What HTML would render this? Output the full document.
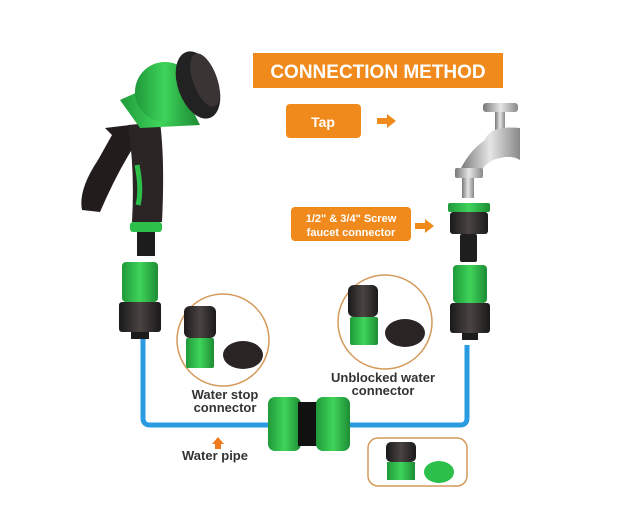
<!DOCTYPE html><html><head><style>body{margin:0;background:#fff}svg{display:block}text{font-family:"Liberation Sans",sans-serif;font-weight:bold}</style></head><body>
<svg width="619" height="526" viewBox="0 0 619 526" xmlns="http://www.w3.org/2000/svg">
<defs>
<linearGradient id="g" x1="0" x2="1"><stop offset="0" stop-color="#1f9a3a"/><stop offset=".5" stop-color="#3fd45a"/><stop offset="1" stop-color="#1d8c34"/></linearGradient>
<linearGradient id="s" x1="0" x2="1"><stop offset="0" stop-color="#777"/><stop offset=".5" stop-color="#e6e6e6"/><stop offset="1" stop-color="#888"/></linearGradient>
<linearGradient id="k" x1="0" x2="1"><stop offset="0" stop-color="#1a1a1a"/><stop offset=".5" stop-color="#4a4442"/><stop offset="1" stop-color="#1a1a1a"/></linearGradient>
</defs>
<!-- pipe -->
<path d="M143 338 V418 Q143 425 150 425 H272 M345 425 H460 Q467 425 467 418 V345" fill="none" stroke="#2a9be0" stroke-width="5"/>
<!-- gun -->
<path d="M82 210 Q78 190 98 160 L112 135 L105 128 L130 125 L138 140 Q118 170 100 212 Z" fill="#221c1c"/>
<path d="M128 125 L160 122 Q165 160 162 222 L132 222 Q135 170 128 125Z" fill="#2a2424"/>
<path d="M137 165 Q142 190 138 205" stroke="#2cc04a" stroke-width="5" fill="none"/>
<path d="M120 100 L175 75 L200 125 L140 128Z" fill="url(#g)"/>
<ellipse cx="165" cy="92" rx="30" ry="30" fill="url(#g)"/>
<ellipse cx="198" cy="85" rx="20" ry="35" transform="rotate(-20 198 85)" fill="#222"/>
<ellipse cx="205" cy="80" rx="12" ry="28" transform="rotate(-20 205 80)" fill="#3a3434"/>
<rect x="130" y="222" width="32" height="10" rx="3" fill="#2cc04a"/>
<rect x="137" y="232" width="18" height="24" fill="#1c1c1c"/>
<!-- left quick connector -->
<rect x="122" y="262" width="36" height="40" rx="4" fill="url(#g)"/>
<rect x="119" y="302" width="42" height="30" rx="3" fill="url(#k)"/>
<rect x="131" y="332" width="18" height="7" fill="#1c1c1c"/>
<!-- faucet -->
<rect x="483" y="103" width="35" height="9" rx="3" fill="url(#s)"/>
<rect x="495" y="112" width="10" height="18" fill="url(#s)"/>
<path d="M520 128 Q490 125 485 140 Q470 150 460 170 L480 172 Q488 160 500 158 Q512 155 520 160Z" fill="url(#s)"/>
<rect x="455" y="168" width="28" height="10" rx="2" fill="url(#s)"/>
<rect x="462" y="178" width="12" height="20" fill="url(#s)"/>
<rect x="448" y="203" width="42" height="9" rx="2" fill="url(#g)"/>
<rect x="450" y="212" width="38" height="22" rx="3" fill="url(#k)"/>
<rect x="460" y="234" width="17" height="28" rx="2" fill="#1e1e1e"/>
<rect x="453" y="265" width="34" height="38" rx="4" fill="url(#g)"/>
<rect x="450" y="303" width="40" height="30" rx="3" fill="url(#k)"/>
<rect x="462" y="333" width="16" height="7" fill="#1c1c1c"/>
<!-- circles -->
<circle cx="223" cy="340" r="46" fill="#fff" stroke="#d49a5a" stroke-width="1.5"/>
<rect x="184" y="306" width="32" height="32" rx="6" fill="url(#k)"/>
<rect x="186" y="338" width="28" height="30" rx="2" fill="url(#g)"/>
<ellipse cx="243" cy="355" rx="20" ry="14" fill="#2a2424"/>
<circle cx="385" cy="322" r="47" fill="#fff" stroke="#d49a5a" stroke-width="1.5"/>
<rect x="348" y="285" width="30" height="32" rx="6" fill="url(#k)"/>
<rect x="350" y="317" width="28" height="28" rx="2" fill="url(#g)"/>
<ellipse cx="405" cy="333" rx="20" ry="14" fill="#2a2424"/>
<!-- coupling -->
<rect x="268" y="397" width="33" height="54" rx="7" fill="url(#g)"/>
<rect x="298" y="402" width="20" height="44" fill="#111"/>
<rect x="316" y="397" width="34" height="54" rx="7" fill="url(#g)"/>
<!-- bottom box -->
<rect x="368" y="438" width="99" height="48" rx="10" fill="#fff" stroke="#d49a5a" stroke-width="1.5"/>
<rect x="386" y="442" width="30" height="20" rx="5" fill="url(#k)"/>
<rect x="387" y="462" width="28" height="18" fill="url(#g)"/>
<ellipse cx="439" cy="472" rx="15" ry="11" fill="#2cc04a"/>
<!-- labels -->
<rect x="253" y="53" width="250" height="35" fill="#f08a1c"/>
<text x="378" y="78" font-size="19" fill="#fff" text-anchor="middle">CONNECTION METHOD</text>
<rect x="286" y="104" width="75" height="34" rx="4" fill="#f08a1c"/>
<text x="323" y="127" font-size="14" fill="#fff" text-anchor="middle">Tap</text>
<path d="M377 118 H387 V114 L396 121 L387 128 V124 H377Z" fill="#f08a1c"/>
<rect x="291" y="207" width="120" height="34" rx="4" fill="#f08a1c"/>
<text x="351" y="222" font-size="11" fill="#fff" text-anchor="middle">1/2" &amp; 3/4" Screw</text>
<text x="351" y="236" font-size="11" fill="#fff" text-anchor="middle">faucet connector</text>
<path d="M415 223 H425 V219 L434 226 L425 233 V229 H415Z" fill="#f08a1c"/>
<text x="225" y="399" font-size="13" fill="#333" text-anchor="middle">Water stop</text>
<text x="225" y="412" font-size="13" fill="#333" text-anchor="middle">connector</text>
<text x="383" y="382" font-size="13" fill="#333" text-anchor="middle">Unblocked water</text>
<text x="383" y="395" font-size="13" fill="#333" text-anchor="middle">connector</text>
<path d="M218 437 L224 444 H221 V449 H215 V444 H212Z" fill="#f07a1c"/>
<text x="215" y="460" font-size="13" fill="#333" text-anchor="middle">Water pipe</text>
</svg></body></html>
